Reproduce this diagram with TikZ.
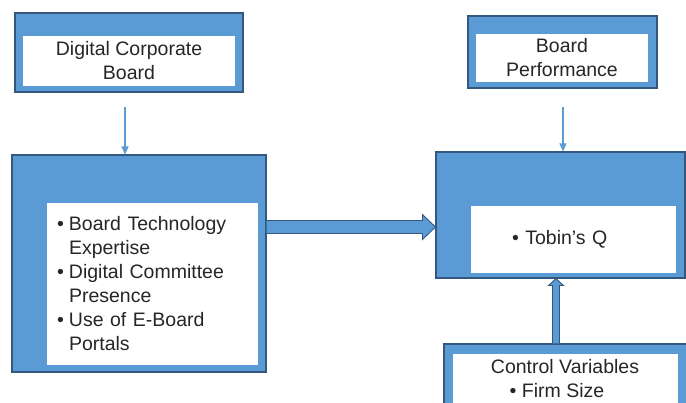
\documentclass[tikz,border=0pt]{standalone}
\usepackage{fontspec}
\setmainfont{Liberation Sans}
\usetikzlibrary{arrows.meta, positioning, calc}
\definecolor{panel}{HTML}{5B9BD5}
\definecolor{rim}{HTML}{34577D}
\definecolor{ink}{HTML}{262626}

\begin{document}
\begin{tikzpicture}[
  x=1pt, y=-1pt,
  every node/.style={font=\fontsize{19.5}{24}\selectfont, text=ink},
  frame/.style={draw=rim, fill=panel, line width=1.1pt, inner sep=0pt},
  card/.style={fill=white, inner sep=0pt, align=center},
  link/.style={-{Triangle[length=8pt,width=7pt]}, draw=panel, line width=1.2pt},
  bigarrow/.style={fill=panel, draw=rim, line width=0.9pt, line join=miter},
]
\useasboundingbox (0,0) rectangle (686,403);
\clip (0,0) rectangle (686,403);

% Top row -- the two constructs
\node[frame, minimum width=228pt, minimum height=79pt] (digital) at (129,52.5) {};
\node[card, minimum width=212pt, minimum height=50pt] (digitaltxt) at (129,61)
  {Digital Corporate\\Board};
\node[frame, minimum width=189pt, minimum height=72pt] (perf) at (562.5,52) {};
\node[card, minimum width=172pt, minimum height=48pt] (perftxt) at (562,58)
  {Board\\Performance};

% Middle row -- measures and outcome
\node[frame, minimum width=254pt, minimum height=217pt] (measures) at (139,263.5) {};
\node[card, minimum width=211pt, minimum height=162pt, text width=191pt, align=left]
  (measurestxt) at (152.5,284)
  {\makebox[12pt][l]{\textbullet}Board Technology\\
   \hspace*{12pt}Expertise\\
   \makebox[12pt][l]{\textbullet}Digital Committee\\
   \hspace*{12pt}Presence\\
   \makebox[12pt][l]{\textbullet}Use of E-Board\\
   \hspace*{12pt}Portals};
\node[frame, minimum width=249pt, minimum height=126pt] (score) at (560.5,215) {};
\node[card, minimum width=205pt, minimum height=67pt, text width=185pt, align=left]
  (scoretxt) at (573.5,239.5) {\raisebox{-2pt}{\hspace*{31pt}\textbullet\ Tobin’s Q}};

% Bottom -- controls
\node[frame, minimum width=246pt, minimum height=76pt] (ctrl) at (567,382) {};
\node[card, minimum width=225pt, minimum height=50pt] (ctrltxt) at (565,379)
  {Control Variables\\\textbullet\ Firm Size\hspace*{16pt}};

% Thin links into the middle row
\draw[link] ($(digital.south)+(-4,14)$) coordinate (d0) -- (d0 |- measures.north);
\draw[link] ($(perf.south)+(0.5,18)$) coordinate (p0) -- (p0 |- score.north);

% Block arrow: measures -> outcome
\path ($(measures.east)+(0,-36.5)$) coordinate (h0) (h0 -| score.west) coordinate (h1);
\draw[bigarrow] ($(h0)+(0,-6.5)$) -- ($(h1)+(-13,-6.5)$) -- ($(h1)+(-13,-12.5)$)
  -- (h1) -- ($(h1)+(-13,12.5)$) -- ($(h1)+(-13,6.5)$) -- ($(h0)+(0,6.5)$);

% Block arrow: controls -> outcome
\path ($(ctrl.north)+(-11,0)$) coordinate (v0) (v0 |- score.south) coordinate (v1);
\draw[bigarrow] ($(v0)+(-3.5,0)$) -- ($(v1)+(-3.5,7)$) -- ($(v1)+(-7.5,7)$)
  -- (v1) -- ($(v1)+(7.5,7)$) -- ($(v1)+(3.5,7)$) -- ($(v0)+(3.5,0)$);

\end{tikzpicture}
\end{document}
